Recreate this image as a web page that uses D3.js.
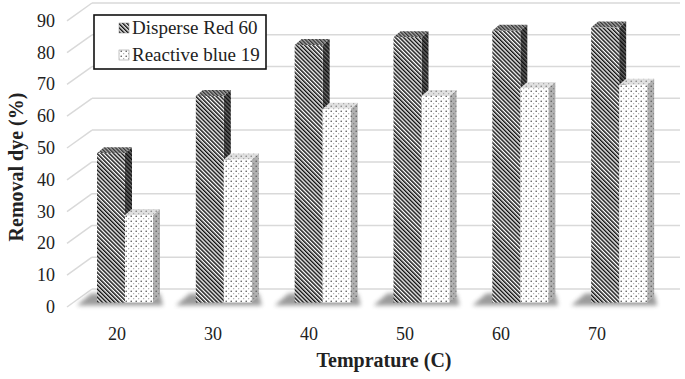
<!DOCTYPE html>
<html>
<head>
<meta charset="utf-8">
<script src="https://cdn.jsdelivr.net/npm/d3@7"></script>
<style>
  body { margin: 0; }
  svg text { font-family: "Liberation Serif", Tinos, "Times New Roman", serif !important; }
</style>
</head>
<body>
<script>
const temps = ["20", "30", "40", "50", "60", "70"];
const seriesNames = ["Disperse Red 60", "Reactive blue 19"];
const disperseRed = [47, 65, 81, 83.5, 85.5, 86.5];
const reactiveBlue = [27.5, 45, 61, 65, 67.5, 68.5];
const yTicks = [0, 10, 20, 30, 40, 50, 60, 70, 80, 90];

const width = 685;
const height = 379;
const serif = "Liberation Serif";

const svg = d3.select("body").append("svg").attr("width", width).attr("height", height);
svg.append("rect").attr("width", width).attr("height", height).attr("fill", "#fff");

const defs = svg.append("defs");

// diagonal stripes (\ direction)
const stripes = (id, bg, fg, size, lw) => {
  const p = defs.append("pattern")
    .attr("id", id)
    .attr("patternUnits", "userSpaceOnUse")
    .attr("width", size).attr("height", size)
    .attr("patternTransform", "rotate(-45)");
  p.append("rect").attr("width", size).attr("height", size).attr("fill", bg);
  p.append("rect").attr("width", lw).attr("height", size).attr("fill", fg);
};
stripes("stripeFront", "#fff", "#111", 2.9, 1.5);
stripes("stripeSide", "#6a6a6a", "#111", 2.9, 1.5);
stripes("stripeTop", "#aaa", "#333", 2.6, 1.3);

// dotted fill
const dots = (id, bg, c1, c2) => {
  const p = defs.append("pattern")
    .attr("id", id)
    .attr("patternUnits", "userSpaceOnUse")
    .attr("width", 5).attr("height", 5);
  p.append("rect").attr("width", 5).attr("height", 5).attr("fill", bg);
  p.append("circle").attr("cx", 1.2).attr("cy", 1.2).attr("r", 0.75).attr("fill", c1);
  p.append("circle").attr("cx", 3.7).attr("cy", 3.7).attr("r", 0.6).attr("fill", c2);
};
dots("dotFront", "#fff", "#444", "#999");
dots("dotSide", "#b0b0b0", "#555", "#777");
dots("dotTop", "#e0e0e0", "#777", "#999");

const blur = defs.append("filter").attr("id", "soft")
  .attr("x", "-50%").attr("y", "-50%").attr("width", "200%").attr("height", "200%");
blur.append("feGaussianBlur").attr("stdDeviation", 2.2);

// scales
const yFront = d3.scaleLinear().domain([0, 90]).range([307, 20.8]);
const yBack = d3.scaleLinear().domain([0, 90]).range([289, 3]);
const yBar = d3.scaleLinear().domain([0, 90]).range([302.5, 16.5]);
const xLabel = d3.scaleBand().domain(temps).range([69, 645]);
const xBar = d3.scaleBand().domain(temps).range([73, 666]);
const xSub = d3.scaleBand().domain(seriesNames).range([24, 80]);

const wallLeft = 92, wallRight = 680, frontLeft = 67;
const sideW = 7, topH = 6;

// back wall and side wall gridlines
const grid = svg.append("g");
grid.selectAll("line.h").data(yTicks).enter().append("line")
  .attr("x1", wallLeft).attr("x2", wallRight)
  .attr("y1", (d) => yBack(d)).attr("y2", (d) => yBack(d))
  .attr("stroke", "#d9d9d9").attr("stroke-width", 1.5);
grid.selectAll("line.s").data(yTicks).enter().append("line")
  .attr("x1", frontLeft).attr("x2", wallLeft)
  .attr("y1", (d) => yFront(d)).attr("y2", (d) => yBack(d))
  .attr("stroke", "#d9d9d9").attr("stroke-width", 1.5);

// y tick labels
svg.selectAll("text.ytick").data(yTicks).enter().append("text")
  .attr("x", 55).attr("y", (d) => yFront(d) + 6)
  .attr("text-anchor", "end")
  .attr("font-family", serif)
  .style("font-size", "18px")
  .style("fill", "#222")
  .text((d) => d);

// x tick labels
svg.selectAll("text.xtick").data(temps).enter().append("text")
  .attr("x", (d) => xLabel(d) + xLabel.bandwidth() / 2)
  .attr("y", 340)
  .attr("text-anchor", "middle")
  .attr("font-family", serif)
  .style("font-size", "18px")
  .style("fill", "#222")
  .text((d) => d);

// shadows under each pair
const y0 = yBar(0);
svg.append("g").selectAll("path").data(temps).enter().append("path")
  .attr("d", (d) => {
    const l = xBar(d) + xSub(seriesNames[0]);
    const r = xBar(d) + xSub(seriesNames[1]) + xSub.bandwidth() + sideW;
    return `M${l - 20},${y0 + 3} L${l - 6},${y0 - 9} L${r},${y0 - 9} L${r + 3},${y0 + 3} Z`;
  })
  .attr("fill", "#666")
  .attr("opacity", 0.65)
  .attr("filter", "url(#soft)");

// bars
const rows = [];
temps.forEach((t, i) => {
  rows.push({ t, s: seriesNames[0], v: disperseRed[i], k: 0 });
  rows.push({ t, s: seriesNames[1], v: reactiveBlue[i], k: 1 });
});
const fills = [
  ["url(#stripeFront)", "url(#stripeSide)", "url(#stripeTop)"],
  ["url(#dotFront)", "url(#dotSide)", "url(#dotTop)"]
];

const bars = svg.append("g").selectAll("g").data(rows).enter().append("g");
const bw = xSub.bandwidth();
bars.append("path")
  .attr("d", (d) => {
    const x = xBar(d.t) + xSub(d.s) + bw, yt = yBar(d.v);
    return `M${x},${yt} L${x + sideW},${yt - topH} L${x + sideW},${y0 - topH} L${x},${y0} Z`;
  })
  .attr("fill", (d) => fills[d.k][1]);
bars.append("path")
  .attr("d", (d) => {
    const x = xBar(d.t) + xSub(d.s), yt = yBar(d.v);
    return `M${x},${yt} L${x + sideW},${yt - topH} L${x + bw + sideW},${yt - topH} L${x + bw},${yt} Z`;
  })
  .attr("fill", (d) => fills[d.k][2]);
bars.append("rect")
  .attr("x", (d) => xBar(d.t) + xSub(d.s))
  .attr("y", (d) => yBar(d.v))
  .attr("width", bw)
  .attr("height", (d) => y0 - yBar(d.v))
  .attr("fill", (d) => fills[d.k][0]);

// legend
svg.append("rect")
  .attr("x", 94).attr("y", 15).attr("width", 172).attr("height", 54)
  .attr("fill", "#fff").attr("stroke", "#111").attr("stroke-width", 1.6);
svg.selectAll("rect.key").data(seriesNames).enter().append("rect")
  .attr("x", 119).attr("y", (d, i) => 23 + i * 27)
  .attr("width", 10).attr("height", 10)
  .attr("fill", (d, i) => fills[i][0]).attr("stroke", "#888").attr("stroke-width", 0.5);
svg.selectAll("text.key").data(seriesNames).enter().append("text")
  .attr("x", 132).attr("y", (d, i) => 34 + i * 27)
  .attr("font-family", serif)
  .style("font-size", "19px")
  .style("fill", "#222")
  .text((d) => d);

// axis titles
svg.append("text")
  .attr("transform", "translate(23,167) rotate(-90)")
  .attr("text-anchor", "middle")
  .attr("font-family", serif)
  .style("font-size", "20px").style("font-weight", "bold")
  .style("fill", "#222")
  .text("Removal dye (%)");
svg.append("text")
  .attr("x", 384).attr("y", 367)
  .attr("text-anchor", "middle")
  .attr("font-family", serif)
  .style("font-size", "20px").style("font-weight", "bold")
  .style("fill", "#222")
  .text("Temprature (C)");
</script>
</body>
</html>
